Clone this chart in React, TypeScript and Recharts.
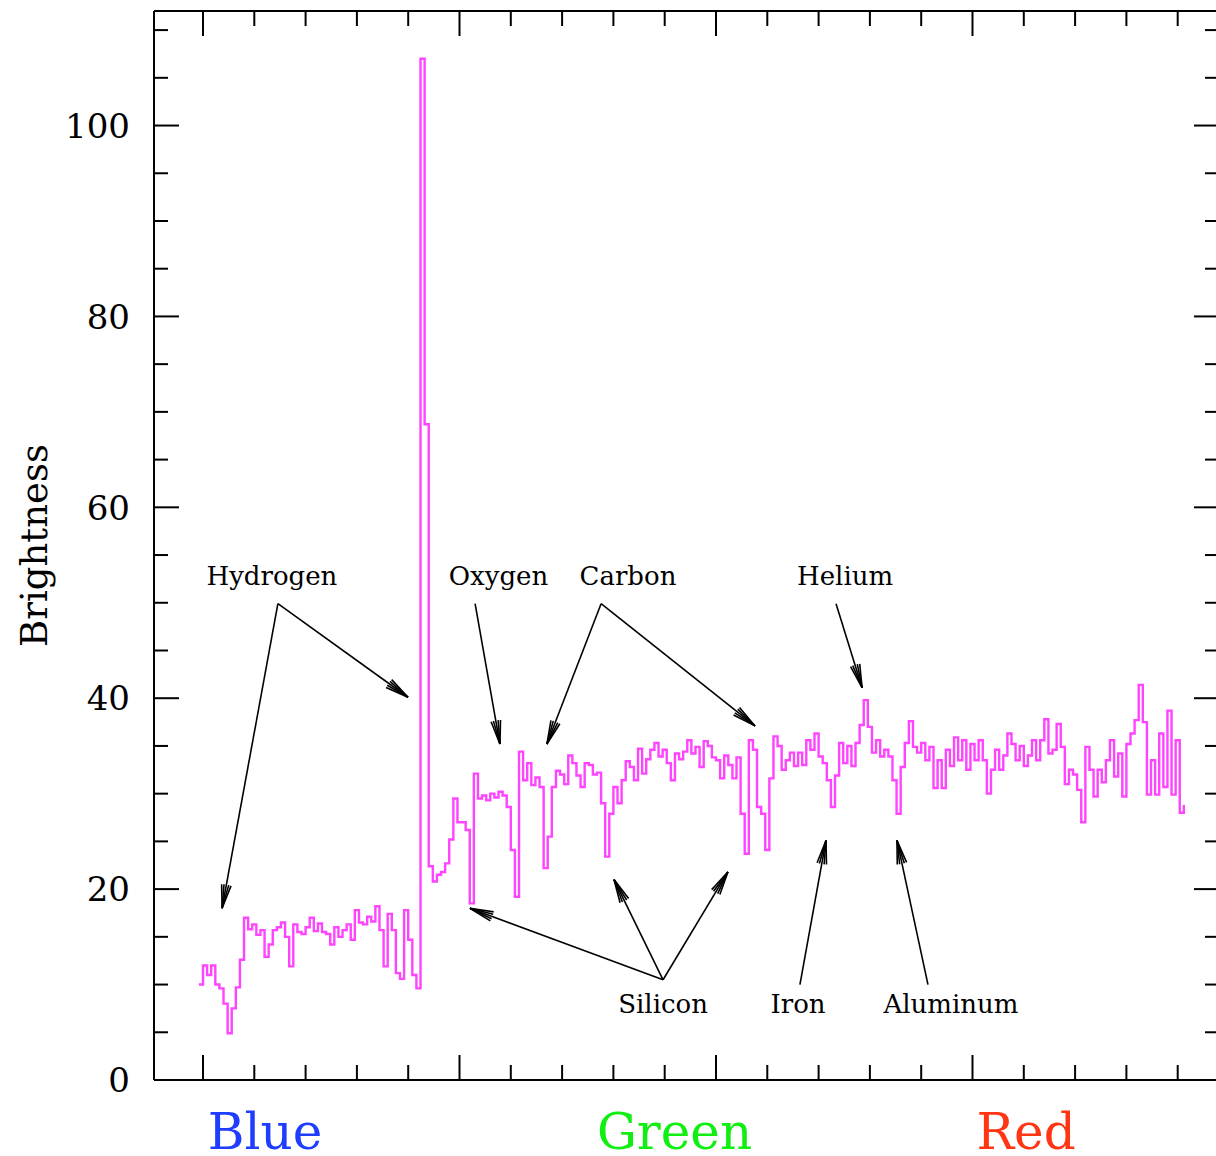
import React from 'react';
import { LineChart, Line, XAxis, YAxis, ReferenceLine, ReferenceDot } from 'recharts';

// Spectrum sampled every 2 detector channels, starting at channel -2.
const CHANNEL_START = -2;
const CHANNEL_STEP = 2;

const blueBrightness = [
  10.0, 12.0, 11.0, 12.0, 10.0, 9.6, 8.0, 4.9, 7.5, 9.7,
  12.6, 17.0, 15.8, 16.3, 15.2, 15.7, 12.9, 14.2, 15.7, 16.0,
  16.5, 15.0, 11.9, 16.3, 15.5, 15.3, 16.0, 17.0, 15.6, 16.4,
  15.5, 15.3, 14.2, 16.0, 15.0, 15.7, 16.3, 14.7, 17.8, 16.5,
  16.3, 17.1, 16.6, 18.2, 15.7, 11.9, 17.4, 15.7, 11.2, 10.6,
  17.8, 14.7, 11.0, 9.6, 107.0, 68.7, 22.4, 20.8, 21.5, 21.8,
];

const greenBrightness = [
  22.7, 25.2, 29.5, 27.0, 27.0, 26.2, 18.5, 32.1, 29.5, 29.8,
  29.3, 30.0, 29.6, 30.2, 29.8, 28.6, 24.1, 19.2, 34.4, 31.4,
  33.2, 30.9, 31.7, 30.7, 22.2, 25.5, 30.7, 32.4, 32.0, 31.0,
  34.0, 33.2, 31.9, 30.7, 33.2, 33.0, 32.0, 32.2, 29.0, 23.4,
  27.9, 30.7, 29.0, 31.4, 33.4, 32.8, 31.4, 34.7, 32.1, 33.6,
  34.6, 35.3, 33.9, 34.6, 33.2, 31.4, 34.2, 33.6, 34.4, 35.6,
  34.2, 34.9, 32.8, 35.5, 35.0, 33.8, 33.5, 31.6, 34.0, 33.0,
  31.6, 33.8, 27.9, 23.7, 35.6, 34.6, 28.6, 27.9, 24.1, 31.6,
  36.0, 35.0, 32.5, 33.5, 34.3, 32.9, 34.3, 33.0, 35.6, 34.6,
  36.3, 33.9, 33.2, 31.4, 28.6, 31.9, 35.3, 33.2, 35.0, 32.9,
  35.3, 37.2, 39.8, 37.0, 34.3, 35.6, 33.9, 34.6, 33.9, 31.4,
  27.9, 32.8, 35.3, 37.6, 34.9, 34.3, 35.3, 33.5, 34.9, 30.6,
  33.5, 30.6, 34.6, 32.9,
];

const redBrightness = [
  35.9, 33.5, 35.6, 32.5, 35.2, 33.5, 35.6, 33.5, 30.0, 32.5,
  34.6, 32.5, 34.0, 36.3, 35.2, 33.5, 35.0, 32.9, 34.0, 35.6,
  33.5, 35.6, 37.8, 34.2, 34.6, 37.3, 34.9, 31.0, 32.5, 32.0,
  30.4, 27.0, 34.9, 32.5, 29.7, 32.5, 31.2, 33.5, 35.6, 31.8,
  34.2, 29.7, 35.2, 36.3, 37.7, 41.4, 37.5, 29.9, 33.5, 29.9,
  36.3, 30.7, 38.7, 29.9, 35.6, 28.0, 28.8,
];

const spectrum = [...blueBrightness, ...greenBrightness, ...redBrightness].map((brightness, i) => ({
  channel: CHANNEL_START + i * CHANNEL_STEP,
  brightness,
}));

const channelTicks = [0, 25, 50, 75, 100, 125, 150, 175, 200, 225, 250, 275, 300, 325, 350, 375, 400, 425, 450, 475];
const channelMajorEvery = 125;
const brightnessTicks = [0, 5, 10, 15, 20, 25, 30, 35, 40, 45, 50, 55, 60, 65, 70, 75, 80, 85, 90, 95, 100, 105, 110];
const brightnessLabelEvery = 20;

// Element names and where their arrows point, in channel / brightness units.
const elementLabels = [
  { name: 'Hydrogen', channel: 33.6, brightness: 51.9 },
  { name: 'Oxygen', channel: 144.0, brightness: 51.9 },
  { name: 'Carbon', channel: 207.1, brightness: 51.9 },
  { name: 'Helium', channel: 312.9, brightness: 51.9 },
  { name: 'Silicon', channel: 224.2, brightness: 7.0 },
  { name: 'Iron', channel: 290.0, brightness: 7.0 },
  { name: 'Aluminum', channel: 364.5, brightness: 7.0 },
];

const elementArrows = [
  { from: [36.5, 49.9], to: [9.3, 18.0] },
  { from: [36.5, 49.9], to: [99.9, 40.1] },
  { from: [132.6, 49.9], to: [144.7, 35.2] },
  { from: [194.0, 49.9], to: [167.6, 35.2] },
  { from: [194.0, 49.9], to: [269.0, 37.1] },
  { from: [308.5, 49.9], to: [321.2, 41.1] },
  { from: [224.2, 10.5], to: [130.1, 18.0] },
  { from: [224.2, 10.5], to: [200.3, 21.0] },
  { from: [224.2, 10.5], to: [255.8, 21.8] },
  { from: [290.9, 10.0], to: [303.6, 25.1] },
  { from: [353.3, 10.0], to: [338.2, 25.1] },
];

const bandLabels = [
  { name: 'Blue', channel: 30.2, color: '#1f3dff' },
  { name: 'Green', channel: 229.8, color: '#11ee11' },
  { name: 'Red', channel: 401.1, color: '#ff3514' },
];
const BAND_LABEL_LEVEL = -7.2;

const FONT = '"DejaVu Serif", "Liberation Serif", serif';
const INK = '#000';

const BottomTick = (props: any) => {
  const { x, y, payload } = props;
  const len = payload.value % channelMajorEvery === 0 ? 25 : 15;
  return <line x1={x} y1={y} x2={x} y2={y - len} stroke={INK} strokeWidth={2} />;
};

const TopTick = (props: any) => {
  const { x, y, payload } = props;
  const len = payload.value % channelMajorEvery === 0 ? 25 : 15;
  return <line x1={x} y1={y} x2={x} y2={y + len} stroke={INK} strokeWidth={2} />;
};

const LeftTick = (props: any) => {
  const { x, y, payload } = props;
  const major = payload.value % brightnessLabelEvery === 0;
  const len = major ? 25 : 14;
  return (
    <g>
      <line x1={x} y1={y} x2={x + len} y2={y} stroke={INK} strokeWidth={2} />
      {major && (
        <text x={x - 24} y={y} dy="0.36em" textAnchor="end" fontFamily={FONT} fontSize={34} fill={INK}>
          {payload.value}
        </text>
      )}
    </g>
  );
};

const RightTick = (props: any) => {
  const { x, y, payload } = props;
  const len = payload.value % brightnessLabelEvery === 0 ? 25 : 14;
  return <line x1={x} y1={y} x2={x - len} y2={y} stroke={INK} strokeWidth={2} />;
};

const arrowShape = (props: any) => {
  const { x1, y1, x2, y2 } = props;
  const ang = Math.atan2(y2 - y1, x2 - x1);
  const barbs = [-0.2, -0.1, 0.1, 0.2];
  return (
    <g stroke={INK} strokeWidth={1.6} fill="none">
      <line x1={x1} y1={y1} x2={x2} y2={y2} />
      {barbs.map((a) => (
        <line
          key={a}
          x1={x2}
          y1={y2}
          x2={x2 - 24 * Math.cos(ang + a)}
          y2={y2 - 24 * Math.sin(ang + a)}
        />
      ))}
    </g>
  );
};

const BrightnessTitle = (props: any) => {
  const vb = props.viewBox || { x: 154, y: 11, height: 1069 };
  const x = vb.x + (vb.width || 0) - 107;
  const y = vb.y + vb.height / 2;
  return (
    <text x={x} y={y} transform={`rotate(-90, ${x}, ${y})`} textAnchor="middle" fontFamily={FONT} fontSize={37} fill={INK}>
      Brightness
    </text>
  );
};

export default function App() {
  return (
    <div style={{ position: 'absolute', left: 0, top: 0, width: 1216, height: 1156, overflow: 'hidden', background: '#fff' }}>
      <LineChart width={1224} height={1156} data={spectrum} margin={{ top: 10, right: 4, bottom: 75, left: 153 }}>
        <XAxis
          xAxisId="bottom"
          dataKey="channel"
          type="number"
          domain={[-23.88, 495.13]}
          allowDataOverflow
          ticks={channelTicks}
          interval={0}
          height={1}
          tickSize={0}
          tickMargin={0}
          tick={<BottomTick />}
          axisLine={{ stroke: INK, strokeWidth: 2 }}
        />
        <XAxis
          xAxisId="top"
          orientation="top"
          dataKey="channel"
          type="number"
          domain={[-23.88, 495.13]}
          allowDataOverflow
          ticks={channelTicks}
          interval={0}
          height={1}
          tickSize={0}
          tickMargin={0}
          tick={<TopTick />}
          axisLine={{ stroke: INK, strokeWidth: 2 }}
        />
        <YAxis
          yAxisId="left"
          type="number"
          domain={[0, 112]}
          allowDataOverflow
          ticks={brightnessTicks}
          interval={0}
          width={1}
          tickSize={0}
          tickMargin={0}
          tick={<LeftTick />}
          axisLine={{ stroke: INK, strokeWidth: 2 }}
          label={{ content: <BrightnessTitle /> }}
        />
        <YAxis
          yAxisId="right"
          orientation="right"
          type="number"
          domain={[0, 112]}
          allowDataOverflow
          ticks={brightnessTicks}
          interval={0}
          width={1}
          tickSize={0}
          tickMargin={0}
          tick={<RightTick />}
          axisLine={{ stroke: INK, strokeWidth: 2 }}
        />
        <Line
          xAxisId="bottom"
          yAxisId="left"
          type="stepAfter"
          dataKey="brightness"
          stroke="#ff44ff"
          strokeWidth={2.4}
          dot={false}
          isAnimationActive={false}
        />
        {elementArrows.map((a, i) => (
          <ReferenceLine
            key={`arrow-${i}`}
            xAxisId="bottom"
            yAxisId="left"
            ifOverflow="visible"
            segment={[
              { x: a.from[0], y: a.from[1] },
              { x: a.to[0], y: a.to[1] },
            ]}
            shape={arrowShape}
          />
        ))}
        {elementLabels.map((l) => (
          <ReferenceDot
            key={l.name}
            xAxisId="bottom"
            yAxisId="left"
            x={l.channel}
            y={l.brightness}
            ifOverflow="visible"
            shape={(p: any) => (
              <text x={p.cx} y={p.cy} textAnchor="middle" fontFamily={FONT} fontSize={26} fill={INK}>
                {l.name}
              </text>
            )}
          />
        ))}
        {bandLabels.map((b) => (
          <ReferenceDot
            key={b.name}
            xAxisId="bottom"
            yAxisId="left"
            x={b.channel}
            y={BAND_LABEL_LEVEL}
            ifOverflow="visible"
            shape={(p: any) => (
              <text x={p.cx} y={p.cy} textAnchor="middle" fontFamily={FONT} fontSize={50} fill={b.color}>
                {b.name}
              </text>
            )}
          />
        ))}
      </LineChart>
    </div>
  );
}
